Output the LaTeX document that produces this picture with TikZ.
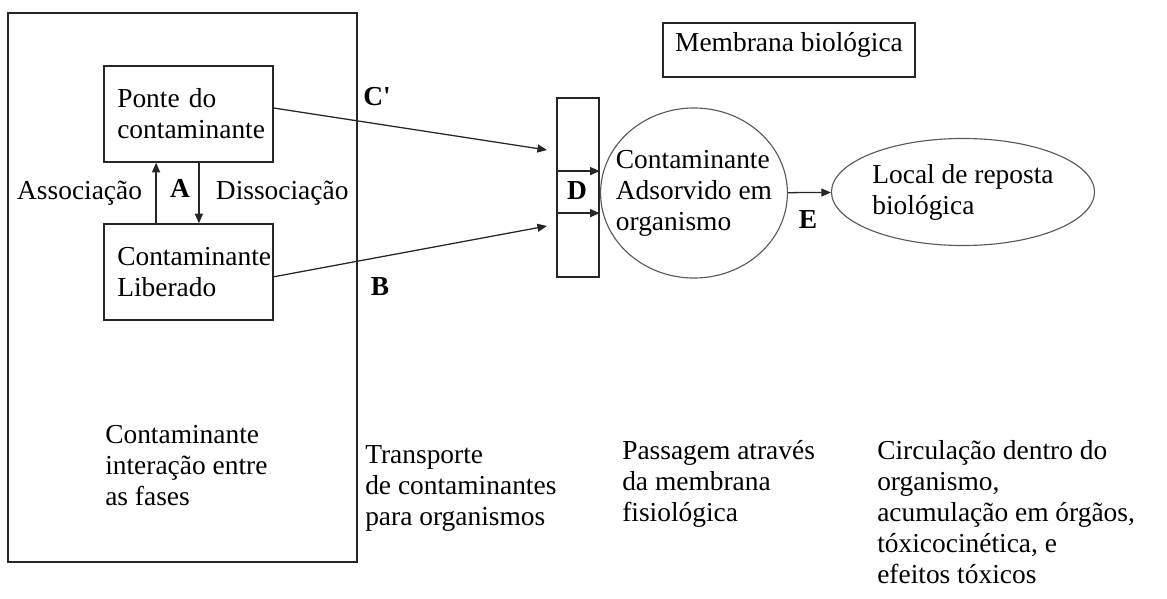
\documentclass[tikz,border=0pt]{standalone}
\usepackage{fontspec}
\setmainfont{Liberation Serif}
\usetikzlibrary{shapes.geometric,arrows.meta}

\begin{document}
\begin{tikzpicture}[x=0.025cm,y=-0.025cm,
        >={Triangle[length=2.4mm,width=2mm]},
        font=\fontsize{19.5}{22}\selectfont,
        caixa/.style={draw=black!85,line width=1pt,rectangle,align=left,
            text width=3.56cm,inner xsep=0.33cm,minimum height=2.4cm},
        oval/.style={draw=black!65,line width=0.8pt,ellipse,align=left,inner ysep=0pt},
        letra/.style={font=\fontsize{19.5}{22}\selectfont\bfseries},
        texto/.style={anchor=north west,align=left,inner sep=0pt},
        fluxo/.style={->,draw=black!85,line width=0.9pt}]

        \useasboundingbox (0,0) rectangle (1167,599);

        % nodes
        \node [draw=black!85,line width=1pt,minimum width=8.725cm,minimum height=13.725cm] (fases) at (182.5,287.5) {};
        \node [caixa] (ponte) at (188.5,114) {Ponte do\\contaminante};
        \node [caixa] (liberado) at (188.5,272) {Contaminante\\Liberado};

        \node [anchor=east] (assoc) at (147,193) {Associação};
        \node [letra] (a) at (180,188) {A};
        \node [anchor=west] (dissoc) at (211,193) {Dissociação};

        \node [letra] (c) at (377,97) {C\textquotesingle};
        \node [letra] (b) at (380,287) {B};

        \node [draw=black!85,line width=1pt,minimum width=6.3cm,minimum height=1.35cm,text depth=0.42cm] (titulo) at (789,50) {Membrana biológica};
        \node [draw=black!85,line width=1pt,minimum width=1.05cm,minimum height=4.475cm,inner sep=0pt] (membrana) at (578,187.5) {};
        \node [letra] (d) at (577,191) {D};

        \node [oval,inner xsep=-0.3cm,minimum width=4.65cm,minimum height=4.25cm] (adsorvido) at (694,193) {Contaminante\\Adsorvido em\\organismo};
        \node [letra] (e) at (808,220) {E};
        \node [oval,inner xsep=0pt,minimum width=6.575cm,minimum height=2.675cm] (local) at (963,192) {Local de reposta\\biológica};

        \coordinate (cfim) at (547,150);
        \coordinate (bfim) at (547,226);

        % bottom texts
        \node [texto] (t1) at (105,425) {Contaminante\\interação entre\\as fases};
        \node [texto] (t2) at (365,445) {Transporte\\de contaminantes\\para organismos};
        \node [texto] (t3) at (622,440) {Passagem através\\da membrana\\fisiológica};
        \node [texto] (t4) at (877,440) {Circulação dentro do\\organismo,\\acumulação em órgãos,\\tóxicocinética, e\\efeitos tóxicos};

        % arrows
        \draw [fluxo] ([xshift=-0.81cm]liberado.north) -- ([xshift=-0.81cm]ponte.south);
        \draw [fluxo] ([xshift=0.26cm]ponte.south) -- ([xshift=0.26cm]liberado.north);

        \draw [fluxo] ([yshift=0.15cm]ponte.east) -- (cfim);
        \draw [fluxo] ([yshift=-0.12cm]liberado.east) -- (bfim);

        \draw [fluxo] ([yshift=0.41cm]membrana.west) -- ([yshift=0.41cm]membrana.east);
        \draw [fluxo] ([yshift=-0.64cm]membrana.west) -- ([yshift=-0.64cm]membrana.east);

        \draw [fluxo] (adsorvido) -- (local);
\end{tikzpicture}
\end{document}
